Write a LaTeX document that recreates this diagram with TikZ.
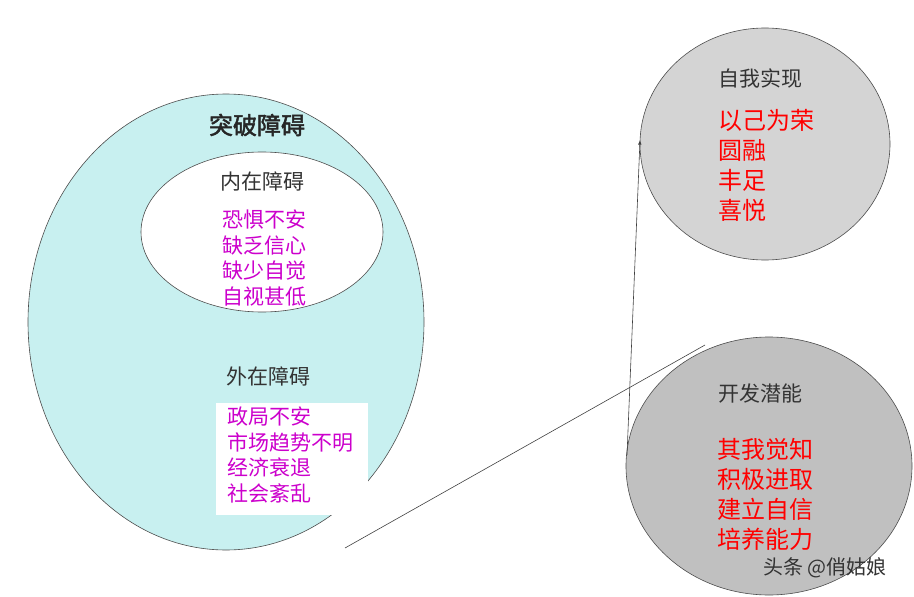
\documentclass[tikz,border=0pt]{standalone}
\usepackage{fontspec}
\setmainfont{Noto Sans CJK SC}
\newfontfamily\cjkb[FakeBold=2]{Noto Sans CJK SC}
\begin{document}
\begin{tikzpicture}[x=1pt,y=-1pt,
  ring/.style={draw=black!70,line width=0.6pt},
  ttl/.style={text=black!80,font=\fontsize{21}{24}\selectfont},
  lst/.style={align=left,anchor=north west,font=\fontsize{21}{25.5}\selectfont,inner sep=0pt},
  conn/.style={draw=black!75,line width=0.6pt}]
\useasboundingbox (0,0) rectangle (914,597);
\definecolor{mag}{RGB}{204,0,204}
\fill[ring,fill={rgb,255:red,200;green,240;blue,240}] (226,322) ellipse (198 and 228);
\fill[ring,fill=white] (262,232) ellipse (121 and 80);
\fill[ring,fill={rgb,255:red,212;green,212;blue,212}] (765,144) ellipse (125 and 116);
\fill[ring,fill={rgb,255:red,192;green,192;blue,192}] (769,466) ellipse (143 and 129);
\node[font=\cjkb\fontsize{24}{26}\selectfont,text=black!85] (t0) at (257,125) {突破障碍};
\node[ttl] (t1) at (262,181) {内在障碍};
\node[lst,text=mag] (l1) at (222,210) {恐惧不安\\缺乏信心\\缺少自觉\\自视甚低};
\node[ttl] (t2) at (268,376) {外在障碍};
\fill[white] (216,403) rectangle (368,515);
\node[lst,text=mag] (l2) at (227,407) {政局不安\\市场趋势不明\\经济衰退\\社会紊乱};
\node[ttl] (t3) at (760,78) {自我实现};
\node[lst,text=red,font=\fontsize{24}{30}\selectfont] (l3) at (718,109) {以己为荣\\圆融\\丰足\\喜悦};
\node[ttl] (t4) at (760,394) {开发潜能};
\node[lst,text=red,font=\fontsize{24}{30}\selectfont] (l4) at (717,438) {其我觉知\\积极进取\\建立自信\\培养能力};
\coordinate (a) at (345,548);
\coordinate (b) at (705,345);
\coordinate (c) at (627,455);
\coordinate (d) at (640,140);
\draw[conn] (a) -- (b);
\draw[conn,-latex] (c) -- (d);
\node[text=black!80,font=\fontsize{20}{22}\selectfont] (wm) at (825,568) {头条 @俏姑娘};
\end{tikzpicture}
\end{document}
